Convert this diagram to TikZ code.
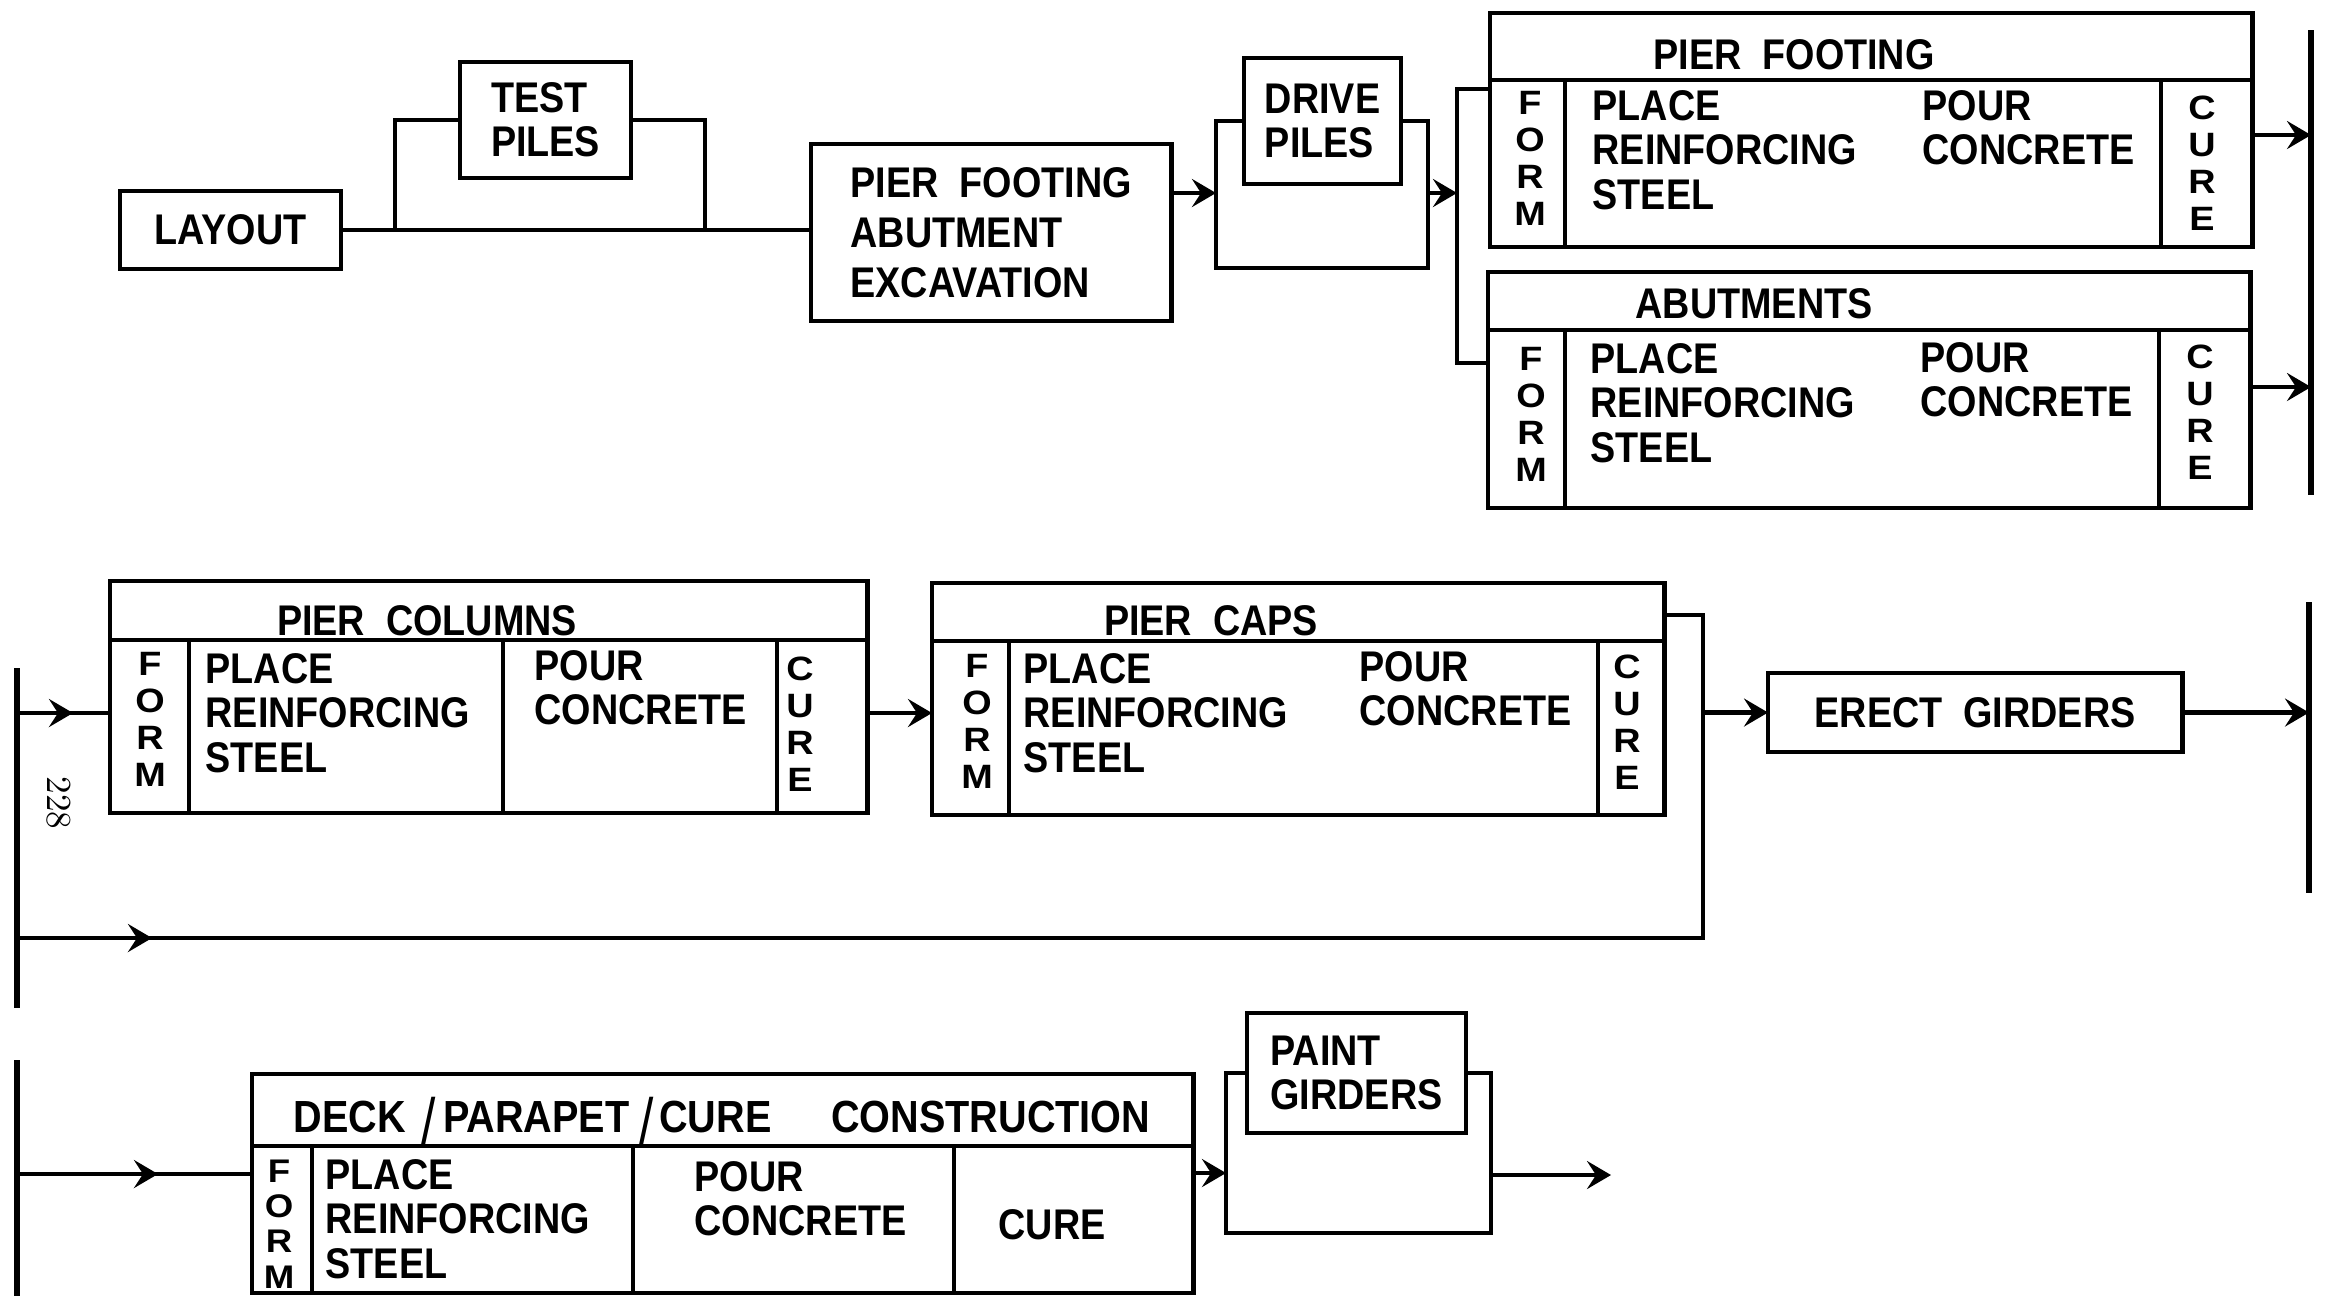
\documentclass[tikz,border=0pt]{standalone}
\usepackage{fontspec}
\newfontfamily\lblfont{Liberation Sans}[FakeStretch=0.88]
\newfontfamily\stkfont{Liberation Sans}[FakeStretch=1.12]
\newcommand\tallslash{\raisebox{-3.6pt}{\scalebox{1.3}[1.45]{\mdseries/}}}
\usetikzlibrary{arrows.meta}
\tikzset{
  lab/.style={font=\lblfont\bfseries\fontsize{12.2}{12.6}\selectfont, align=left, inner sep=0pt},
  box/.style={draw, line width=1.3pt, inner sep=0pt, outer sep=0pt, anchor=north west, lab},
  stack/.style={font=\stkfont\bfseries\fontsize{9.6}{10.5}\selectfont, align=center, inner sep=0pt},
  ln/.style={line width=1.3pt},
  arr/.style={line width=1.3pt, -{Stealth[length=0.24cm, width=0.28cm, inset=0.09cm]}},
  dv/.style={line width=1.2pt},
  bar/.style={line width=1.6pt},
}
\begin{document}
\begin{tikzpicture}[x=0.01cm, y=-0.01cm]
\useasboundingbox (0,0) rectangle (2325,1296);

% ---------- Row 1 ----------
\node[box, minimum width=2.21cm, minimum height=0.78cm] (layout) at (120,191) {LAYOUT};
\node[box, minimum width=1.71cm, minimum height=1.16cm] (test) at (460,62) {TEST\\PILES};
\node[box, minimum width=3.60cm, minimum height=1.77cm, font=\lblfont\bfseries\fontsize{12.2}{14.2}\selectfont] (pfae) at (811,144) {PIER\ \ FOOTING\\ABUTMENT\\EXCAVATION};
\node[box, minimum width=1.57cm, minimum height=1.26cm] (drive) at (1244,58) {DRIVE\\PILES};

% Pier footing composite
\node[box, minimum width=7.62cm, minimum height=2.34cm] (pf) at (1490,13) {};
\draw[dv] (1490,80) -- (2252,80);
\draw[dv] (1565,80) -- (1565,247);
\draw[dv] (2161,80) -- (2161,247);
\node[lab] (pfT) at (1794,55) {PIER\ \ FOOTING};
\node[stack] (pfF) at (1530,158) {F\\O\\R\\M};
\node[lab, anchor=west] (pfP) at (1592,150) {PLACE\\REINFORCING\\STEEL};
\node[lab, anchor=west] (pfQ) at (1922,128) {POUR\\CONCRETE};
\node[stack] (pfC) at (2202,163) {C\\U\\R\\E};

% Abutments composite
\node[box, minimum width=7.62cm, minimum height=2.36cm] (ab) at (1488,272) {};
\draw[dv] (1488,330) -- (2250,330);
\draw[dv] (1565,330) -- (1565,508);
\draw[dv] (2159,330) -- (2159,508);
\node[lab] (abT) at (1754,304) {ABUTMENTS};
\node[stack] (abF) at (1531,414) {F\\O\\R\\M};
\node[lab, anchor=west] (abP) at (1590,403) {PLACE\\REINFORCING\\STEEL};
\node[lab, anchor=west] (abQ) at (1920,380) {POUR\\CONCRETE};
\node[stack] (abC) at (2200,412) {C\\U\\R\\E};

% connectors row 1
\coordinate (tl) at (395,0);
\coordinate (tr) at (705,0);
\draw[ln] (layout.east) -- (layout.east -| pfae.west);
\draw[ln] (layout.east -| tl) |- (test.west);
\draw[ln] (test.east) -| (layout.east -| tr);
\coordinate (dl) at (1216,193);
\coordinate (dlb) at (1216,268);
\coordinate (drb) at (1428,268);
\draw[arr] (pfae.east |- dl) -- (dl);
\draw[ln] (drive.west) -| (dlb) -- (drb) |- (drive.east);
\coordinate (brk) at (1457,193);
\coordinate (bt) at (1457,89);
\coordinate (bb) at (1457,363);
\draw[arr] (drb |- brk) -- (brk);
\draw[ln] (bt -| pf.west) -- (bt) -- (bb) -- (bb -| ab.west);
\coordinate (r1t) at (2311,30);
\coordinate (r1b) at (2311,495);
\draw[bar] (r1t) -- (r1b);
\coordinate (a1) at (2311,135);
\coordinate (a2) at (2311,387);
\draw[arr] (pf.east |- a1) -- (a1);
\draw[arr] (ab.east |- a2) -- (a2);

% ---------- Row 2 ----------
\node[box, minimum width=7.57cm, minimum height=2.32cm] (pcol) at (110,581) {};
\draw[dv] (110,640) -- (867,640);
\draw[dv] (189,640) -- (189,813);
\draw[dv] (503,640) -- (503,813);
\draw[dv] (777,640) -- (777,813);
\node[lab] (pcolT) at (427,621) {PIER\ \ COLUMNS};
\node[stack] (pcolF) at (150,719) {F\\O\\R\\M};
\node[lab, anchor=west] (pcolP) at (205,713) {PLACE\\REINFORCING\\STEEL};
\node[lab, anchor=west] (pcolQ) at (534,688) {POUR\\CONCRETE};
\node[stack] (pcolC) at (800,724) {C\\U\\R\\E};

\node[box, minimum width=7.32cm, minimum height=2.32cm] (pcap) at (932,583) {};
\draw[dv] (932,641) -- (1664,641);
\draw[dv] (1009,641) -- (1009,815);
\draw[dv] (1598,641) -- (1598,815);
\node[lab] (pcapT) at (1211,621) {PIER\ \ CAPS};
\node[stack] (pcapF) at (977,721) {F\\O\\R\\M};
\node[lab, anchor=west] (pcapP) at (1023,713) {PLACE\\REINFORCING\\STEEL};
\node[lab, anchor=west] (pcapQ) at (1359,689) {POUR\\CONCRETE};
\node[stack] (pcapC) at (1627,722) {C\\U\\R\\E};

\node[box, minimum width=4.14cm, minimum height=0.79cm] (erect) at (1768,673) {ERECT\ \ GIRDERS};

\node[rotate=-90, font=\fontsize{10}{10}\selectfont, inner sep=0pt] (pg) at (59,803) {228};

% connectors row 2
\coordinate (l2t) at (17,668);
\coordinate (l2b) at (17,1008);
\draw[bar] (l2t) -- (l2b);
\coordinate (e1) at (17,713);
\coordinate (m1) at (73,713);
\draw[ln] (e1) -- (e1 -| pcol.west);
\draw[arr] (e1) -- (m1);
\coordinate (j1) at (900,713);
\draw[arr] (pcol.east |- j1) -- (pcap.west |- j1);
\coordinate (ct) at (1703,615);
\coordinate (cb) at (1703,938);
\coordinate (m2) at (152,938);
\draw[ln] (pcap.east |- ct) -- (ct) -- (cb) -- (cb -| l2t);
\draw[arr] (cb -| l2t) -- (m2);
\draw[arr] (ct |- erect.west) -- (erect.west);
\coordinate (r2t) at (2309,602);
\coordinate (r2b) at (2309,893);
\draw[bar] (r2t) -- (r2b);
\draw[arr] (erect.east) -- (erect.east -| r2t);

% ---------- Row 3 ----------
\node[box, minimum width=9.41cm, minimum height=2.19cm] (deck) at (252,1074) {};
\draw[dv] (252,1146) -- (1193,1146);
\draw[dv] (312,1146) -- (312,1293);
\draw[dv] (633,1146) -- (633,1293);
\draw[dv] (954,1146) -- (954,1293);
\node[lab, anchor=base, font=\lblfont\bfseries\fontsize{12.8}{13}\selectfont] (deckT) at (722,1132) {DECK\hspace{4.5pt}\tallslash\hspace{2pt}PARAPET\hspace{3pt}\tallslash\hspace{1.4pt}CURE\hspace{17pt}CONSTRUCTION};
\node[stack, font=\stkfont\bfseries\fontsize{9.3}{10}\selectfont] (deckF) at (279,1224) {F\\O\\R\\M};
\node[lab, anchor=west] (deckP) at (325,1219) {PLACE\\REINFORCING\\STEEL};
\node[lab, anchor=west] (deckQ) at (694,1199) {POUR\\CONCRETE};
\node[lab] (deckC) at (1052,1225) {CURE};

\node[box, minimum width=2.19cm, minimum height=1.20cm] (paint) at (1247,1013) {PAINT\\GIRDERS};

\coordinate (l3t) at (17,1060);
\coordinate (l3b) at (17,1296);
\draw[bar] (l3t) -- (l3b);
\coordinate (e3) at (17,1174);
\coordinate (m3) at (158,1174);
\draw[ln] (e3) -- (e3 -| deck.west);
\draw[arr] (e3) -- (m3);
\coordinate (pl) at (1226,1173);
\coordinate (plb) at (1226,1233);
\coordinate (prb) at (1491,1233);
\draw[arr] (deck.east |- pl) -- (pl);
\draw[ln] (paint.west) -| (plb) -- (prb) |- (paint.east);
\coordinate (out) at (1611,1175);
\draw[arr] (prb |- out) -- (out);
\end{tikzpicture}
\end{document}
